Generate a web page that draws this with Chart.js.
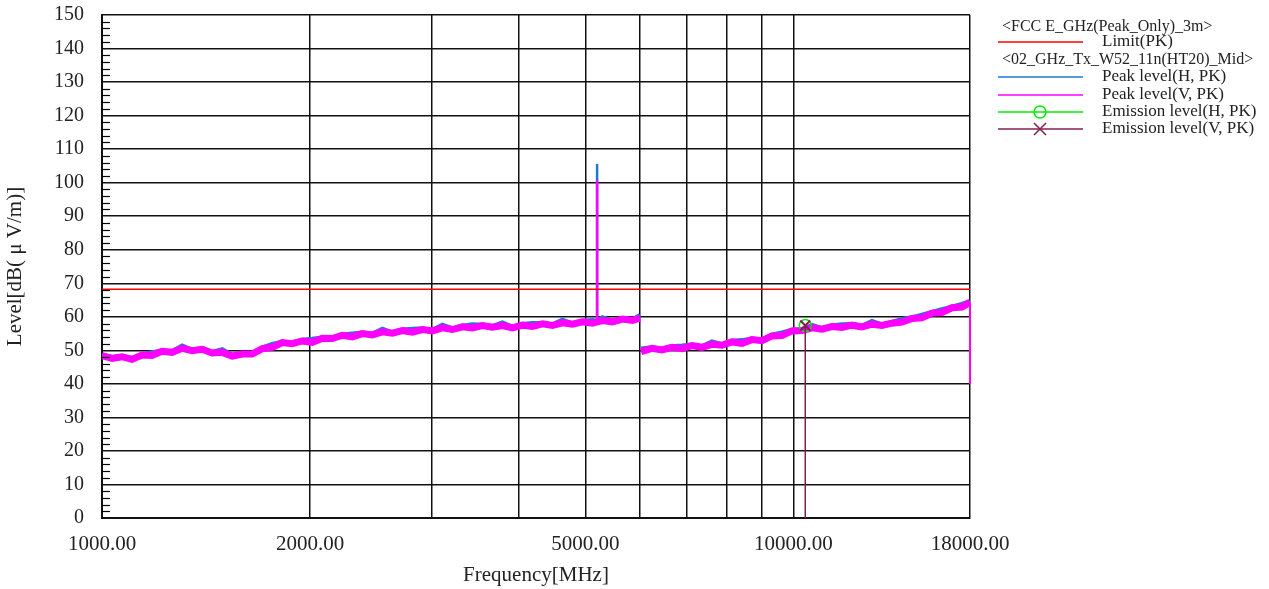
<!DOCTYPE html>
<html>
<head>
<meta charset="utf-8">
<script src="https://cdn.jsdelivr.net/npm/chart.js@4.4.1/dist/chart.umd.min.js"></script>
<style>
  html, body { margin: 0; padding: 0; background: #fff; }
  #chart { display: block; }
</style>
</head>
<body>
<canvas id="chart" width="1269" height="589"></canvas>
<script>
// frequency axis [MHz], first sweep (1 - 6 GHz)
const freqLow = [1000, 1034, 1069, 1105, 1143, 1181, 1221, 1263, 1306, 1350,
  1396, 1443, 1492, 1543, 1595, 1649, 1705, 1763, 1823, 1884,
  1948, 2014, 2083, 2153, 2226, 2302, 2380, 2460, 2544, 2630,
  2719, 2811, 2906, 3005, 3106, 3212, 3320, 3433, 3549, 3669,
  3794, 3922, 4055, 4192, 4334, 4481, 4633, 4790, 4952, 5120,
  5200, 5293, 5472, 5658, 5849, 6000]
const peakH_low = [48.5, 47.9, 48.2, 47.6, 48.7, 49.3, 49.8, 49.6, 51.3, 50.0,
  50.5, 49.4, 50.2, 48.4, 49.1, 49.0, 50.7, 51.8, 52.4, 52.2,
  53.0, 53.3, 53.7, 53.7, 54.6, 54.9, 55.2, 54.8, 56.3, 55.2,
  56.1, 56.3, 56.4, 55.9, 57.5, 56.4, 57.2, 57.6, 57.5, 57.1,
  58.2, 56.9, 57.7, 58.0, 58.0, 57.6, 59.0, 57.9, 58.7, 58.9,
  58.7, 59.7, 58.7, 59.5, 59.1, 60.4]
const peakV_low = [48.4, 47.6, 48.1, 47.3, 48.6, 48.5, 49.7, 49.4, 50.6, 49.9,
  50.3, 49.2, 49.4, 48.3, 48.9, 48.9, 50.5, 50.9, 52.3, 52.0,
  52.8, 52.4, 53.6, 53.5, 54.5, 54.0, 55.0, 54.6, 55.5, 55.1,
  55.9, 55.4, 56.2, 55.8, 56.7, 56.2, 57.0, 56.7, 57.4, 56.9,
  57.4, 56.7, 57.5, 57.1, 57.9, 57.4, 58.2, 57.8, 58.5, 58.1,
  58.5, 58.9, 58.5, 59.3, 58.9, 59.6]

// carrier spike (5200 MHz) and the fall at the sweep end
const spikeFreq = [5200, 5200]
const spikeH = [58.7, 105.6]
const spikeV = [58.5, 100.6]
const endFreq = [18000, 18000]
const endV = [64.3, 40.0]

// second sweep (6 - 18 GHz)
const freqHigh = [6020, 6242, 6454, 6672, 6898, 7132, 7373, 7623, 7881, 8148,
  8424, 8709, 9004, 9309, 9624, 9950, 10287, 10635, 10995, 11367,
  11752, 12150, 12561, 12986, 13426, 13881, 14350, 14836, 15338, 15858,
  16394, 16949, 17523, 18000]
const peakH_high = [50.4, 50.8, 50.3, 51.1, 51.3, 51.6, 51.1, 52.5, 51.7, 52.7,
  52.9, 53.4, 53.1, 54.5, 55.2, 56.0, 56.1, 57.4, 56.5, 57.3,
  57.6, 57.7, 57.2, 58.6, 57.6, 58.3, 59.2, 59.7, 60.5, 61.3,
  62.1, 62.9, 63.7, 64.5]
const peakV_high = [49.6, 50.6, 50.1, 50.9, 50.5, 51.4, 50.9, 51.8, 51.5, 52.5,
  52.1, 53.2, 52.9, 54.3, 54.4, 55.8, 55.9, 56.7, 56.3, 57.1,
  56.8, 57.5, 57.0, 57.8, 57.4, 58.1, 58.4, 59.5, 59.7, 61.1,
  61.3, 62.7, 62.9, 64.3]

const limitFreq = [1000, 18000]
const limitLevel = [68.2, 68.2]

const emissionFreq = [10400]
const emissionH = [57.4]
const emissionV = [57.4]

const xTicks = [1000, 2000, 3000, 4000, 5000, 6000, 7000, 8000, 9000, 10000, 18000]
const xLabeled = [1000, 2000, 5000, 10000, 18000]
const yMin = 0, yMax = 150, yStep = 10, yMinorStep = 2

const serif = '"Liberation Serif", "DejaVu Serif", serif'

const pts = (fs, ys) => fs.map((f, i) => ({x: f, y: ys[i]}))

function trace(fa, ya, fb, yb) {
  const p = pts(fa, ya)
  p.push({x: (fa[fa.length - 1] + fb[0]) / 2, y: null})
  return p.concat(pts(fb, yb))
}

// minor ticks on left axis + legend text block on the right
const extras = {
  id: 'extras',
  afterDatasetsDraw(chart) {
    const ctx = chart.ctx
    const ys = chart.scales.y
    const left = chart.chartArea.left
    ctx.save()
    ctx.strokeStyle = '#000'
    ctx.lineWidth = 1.2
    for (let v = yMin; v <= yMax; v += yMinorStep) {
      if (v % yStep === 0) continue
      const py = Math.round(ys.getPixelForValue(v)) + 0.5
      ctx.beginPath()
      ctx.moveTo(left, py)
      ctx.lineTo(left + 8, py)
      ctx.stroke()
    }
    ctx.restore()
  },
  afterDraw(chart) {
    const ctx = chart.ctx
    ctx.save()
    ctx.textBaseline = 'middle'
    ctx.fillStyle = '#222'
    const lx0 = 998, lx1 = 1083, tx = 1102
    const rows = [
      {head: '<FCC E_GHz(Peak_Only)_3m>', y: 27},
      {text: 'Limit(PK)', color: '#ff0000', y: 42},
      {head: '<02_GHz_Tx_W52_11n(HT20)_Mid>', y: 60},
      {text: 'Peak level(H, PK)', color: '#1f78d1', y: 77},
      {text: 'Peak level(V, PK)', color: '#ff00ff', y: 95},
      {text: 'Emission level(H, PK)', color: '#00ee00', y: 112, mark: 'circle'},
      {text: 'Emission level(V, PK)', color: '#80204f', y: 129, mark: 'cross'}
    ]
    rows.forEach(r => {
      if (r.head) {
        ctx.font = '16px ' + serif
        ctx.fillText(r.head, 1002, r.y)
        return
      }
      ctx.strokeStyle = r.color
      ctx.lineWidth = 1.5
      ctx.beginPath()
      ctx.moveTo(lx0, r.y)
      ctx.lineTo(lx1, r.y)
      ctx.stroke()
      if (r.mark === 'circle') {
        ctx.beginPath()
        ctx.arc(1040, r.y, 6, 0, Math.PI * 2)
        ctx.stroke()
      } else if (r.mark === 'cross') {
        ctx.beginPath()
        ctx.moveTo(1034, r.y - 6); ctx.lineTo(1046, r.y + 6)
        ctx.moveTo(1046, r.y - 6); ctx.lineTo(1034, r.y + 6)
        ctx.stroke()
      }
      ctx.fillStyle = '#222'
      ctx.font = '17px ' + serif
      ctx.fillText(r.text, tx, r.y)
    })
    ctx.restore()
  }
}

const chart = document.querySelector('#chart').getContext('2d')

new Chart(chart, {
  type: 'line',
  data: {
    datasets: [
      {
        label: 'Limit(PK)',
        data: pts(limitFreq, limitLevel),
        borderColor: '#ff0000',
        borderWidth: 1.5,
        pointRadius: 0,
        order: 0
      },
      {
        label: 'Emission level(V, PK)',
        data: [{x: emissionFreq[0], y: emissionV[0]}, {x: emissionFreq[0], y: 0}],
        borderColor: '#80204f',
        borderWidth: 1.5,
        pointStyle: 'crossRot',
        pointRadius: [7, 0],
        pointBorderWidth: 2,
        pointBorderColor: '#80204f',
        order: 1
      },
      {
        label: 'Emission level(H, PK)',
        data: pts(emissionFreq, emissionH),
        borderColor: '#00ee00',
        showLine: false,
        pointStyle: 'circle',
        pointRadius: 6,
        pointBorderWidth: 1.5,
        pointBorderColor: '#00ee00',
        pointBackgroundColor: 'rgba(0,0,0,0)',
        order: 2
      },
      {
        label: 'Peak level(V, PK)',
        data: trace(freqLow, peakV_low, freqHigh, peakV_high),
        borderColor: '#ff00ff',
        borderWidth: 7,
        pointRadius: 0,
        spanGaps: false,
        order: 3
      },
      {
        label: 'V spike',
        data: pts(spikeFreq, spikeV),
        borderColor: '#ff00ff',
        borderWidth: 2.5,
        pointRadius: 0,
        order: 3
      },
      {
        label: 'V end',
        data: pts(endFreq, endV),
        borderColor: '#ff00ff',
        borderWidth: 2,
        pointRadius: 0,
        clip: 4,
        order: 3
      },
      {
        label: 'Peak level(H, PK)',
        data: trace(freqLow, peakH_low, freqHigh, peakH_high),
        borderColor: '#1f78d1',
        borderWidth: 5,
        pointRadius: 0,
        spanGaps: false,
        order: 4
      },
      {
        label: 'H spike',
        data: pts(spikeFreq, spikeH),
        borderColor: '#1f78d1',
        borderWidth: 2.5,
        pointRadius: 0,
        order: 4
      }
    ]
  },
  options: {
    responsive: false,
    animation: false,
    layout: {padding: {left: 0, right: 299, top: 15, bottom: 0}},
    plugins: {legend: {display: false}, tooltip: {enabled: false}},
    scales: {
      x: {
        type: 'logarithmic',
        min: 1000,
        max: 18000,
        afterBuildTicks: s => { s.ticks = xTicks.map(v => ({value: v})) },
        afterFit: s => { s.height = 71 },
        grid: {color: '#111', lineWidth: 1.5, drawTicks: false},
        border: {color: '#111', width: 2},
        ticks: {
          autoSkip: false,
          maxRotation: 0,
          padding: 14,
          color: '#222',
          font: {family: serif, size: 21},
          callback: v => xLabeled.includes(v) ? v.toFixed(2) : ''
        },
        title: {
          display: true,
          text: 'Frequency[MHz]',
          color: '#222',
          font: {family: serif, size: 21},
          padding: {top: 0, bottom: 1}
        }
      },
      y: {
        min: yMin,
        max: yMax,
        afterFit: s => { s.width = 102; s.paddingTop = 0; s.paddingBottom = 0 },
        grid: {color: '#111', lineWidth: 1.5, drawTicks: false},
        border: {color: '#111', width: 2},
        ticks: {
          stepSize: yStep,
          padding: 18,
          color: '#222',
          font: {family: serif, size: 20}
        },
        title: {
          display: true,
          text: 'Level[dB( μ V/m)]',
          color: '#222',
          font: {family: serif, size: 21},
          padding: {top: 3, bottom: 0}
        }
      }
    }
  },
  plugins: [extras]
})
</script>
</body>
</html>
